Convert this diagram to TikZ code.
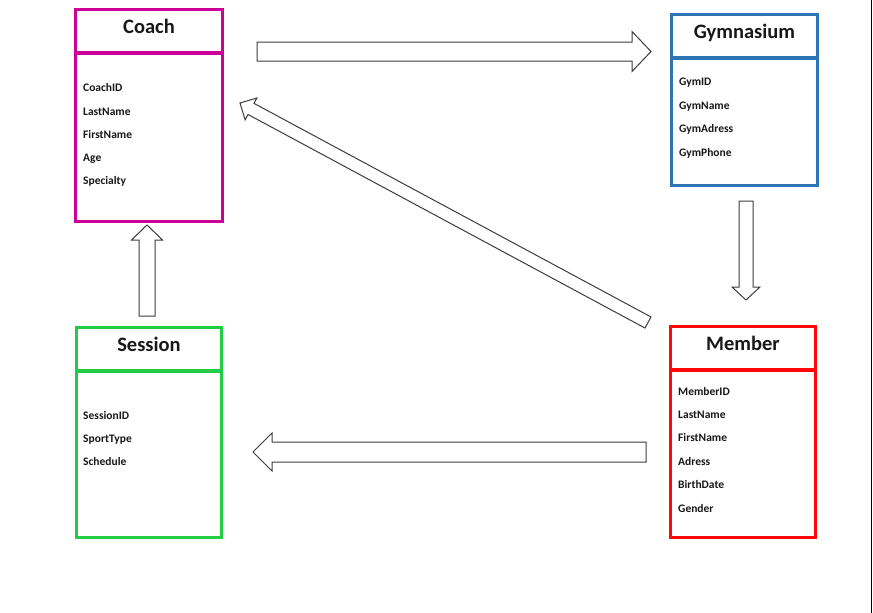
\documentclass[tikz,border=0pt]{standalone}
\usepackage{fontspec}
\setmainfont{Carlito}
\usetikzlibrary{calc}
\definecolor{coachc}{RGB}{204,0,153}
\definecolor{gymc}{RGB}{46,117,182}
\definecolor{sessc}{RGB}{34,204,68}
\definecolor{membc}{RGB}{255,8,8}
\definecolor{arrowc}{RGB}{60,60,60}
\definecolor{inkc}{RGB}{24,24,24}

% Hollow block arrow from #1 to #2: shaft half width #3, head half width #4, head length #5
\newcommand\blockarrow[5]{%
  \draw[blockarrow] let \p1=(#1), \p2=(#2),
    \n1={veclen(\x2-\x1,\y2-\y1)},
    \n2={(\x2-\x1)/\n1}, \n3={(\y2-\y1)/\n1},
    \p3=({\x1+(\n1-#5)*\n2},{\y1+(\n1-#5)*\n3}) in
    ({\x1-\n3*#3},{\y1+\n2*#3}) -- ({\x3-\n3*#3},{\y3+\n2*#3})
    -- ({\x3-\n3*#4},{\y3+\n2*#4}) -- (\p2)
    -- ({\x3+\n3*#4},{\y3-\n2*#4}) -- ({\x3+\n3*#3},{\y3-\n2*#3})
    -- ({\x1+\n3*#3},{\y1-\n2*#3}) -- cycle;}

\begin{document}
\begin{tikzpicture}[x=1pt,y=-1pt,
  header/.style={draw, line width=2.8pt, anchor=north west, inner sep=0pt, outer sep=0pt,
    minimum height=42.8pt, font=\bfseries\fontsize{20.5}{24}\selectfont, text=inkc,
    text height=14pt, text depth=8.2pt},
  body/.style={draw, line width=2.8pt, anchor=north west, inner sep=0pt, outer sep=0pt},
  attr/.style={anchor=base west, inner sep=0pt, font=\bfseries\fontsize{11.5}{13}\selectfont, text=inkc},
  blockarrow/.style={draw=arrowc, fill=white, line width=1pt, line join=miter}]

\useasboundingbox (0,0) rectangle (873,613);
\fill[white] (0,0) rectangle (873,613);

% Coach
\node[header, draw=coachc, minimum width=147.6pt] (coach) at (75.2,9.2) {Coach};
\node[body, draw=coachc, minimum width=147.6pt, minimum height=168.4pt] (coachbody) at ([yshift=-1.4pt]coach.south west) {};
\foreach \t/\y [count=\i] in {CoachID/88, LastName/111.3, FirstName/134.5, Age/157.8, Specialty/181}
  \node[attr] (coach-a\i) at (83,\y+3.8) {\t};

% Gymnasium
\node[header, draw=gymc, minimum width=146.6pt] (gym) at (671.2,14.2) {Gymnasium};
\node[body, draw=gymc, minimum width=146.6pt, minimum height=127.4pt] (gymbody) at ([yshift=-1.4pt]gym.south west) {};
\foreach \t/\y [count=\i] in {GymID/82, GymName/106, GymAdress/129, GymPhone/153}
  \node[attr] (gym-a\i) at (679,\y+3.8) {\t};

% Session
\node[header, draw=sessc, minimum width=145.6pt] (session) at (76.2,327.2) {Session};
\node[body, draw=sessc, minimum width=145.6pt, minimum height=166.4pt] (sessionbody) at ([yshift=-1.4pt]session.south west) {};
\foreach \t/\y [count=\i] in {SessionID/416, SportType/439, Schedule/462}
  \node[attr] (session-a\i) at (83,\y+3.8) {\t};

% Member
\node[header, draw=membc, minimum width=145.6pt] (member) at (670.2,326.2) {Member};
\node[body, draw=membc, minimum width=145.6pt, minimum height=167.4pt] (memberbody) at ([yshift=-1.4pt]member.south west) {};
\foreach \t/\y [count=\i] in {MemberID/392, LastName/415, FirstName/438, Adress/462, BirthDate/485, Gender/509}
  \node[attr] (member-a\i) at (678,\y+3.8) {\t};

% Arrow end points
\coordinate (cg-tail) at (257,51.5);
\coordinate (cg-tip)  at (651,51.5);
\coordinate (gm-tail) at (746,201);
\coordinate (gm-tip)  at (746,300);
\coordinate (ms-tail) at (646,452);
\coordinate (ms-tip)  at (253,452);
\coordinate (sc-tail) at (147,316);
\coordinate (sc-tip)  at (147,225);
\coordinate (mc-tail) at (648,322.5);
\coordinate (mc-tip)  at (240,103);

\blockarrow{cg-tail}{cg-tip}{9.5}{20}{19}
\blockarrow{gm-tail}{gm-tip}{7}{14}{13}
\blockarrow{ms-tail}{ms-tip}{10}{19}{19}
\blockarrow{sc-tail}{sc-tip}{8}{15.5}{15}
\blockarrow{mc-tail}{mc-tip}{6.3}{12.4}{12.5}

% page edge
\draw[line width=1.3pt] (871.8,0) -- (871.8,613);
\end{tikzpicture}
\end{document}
